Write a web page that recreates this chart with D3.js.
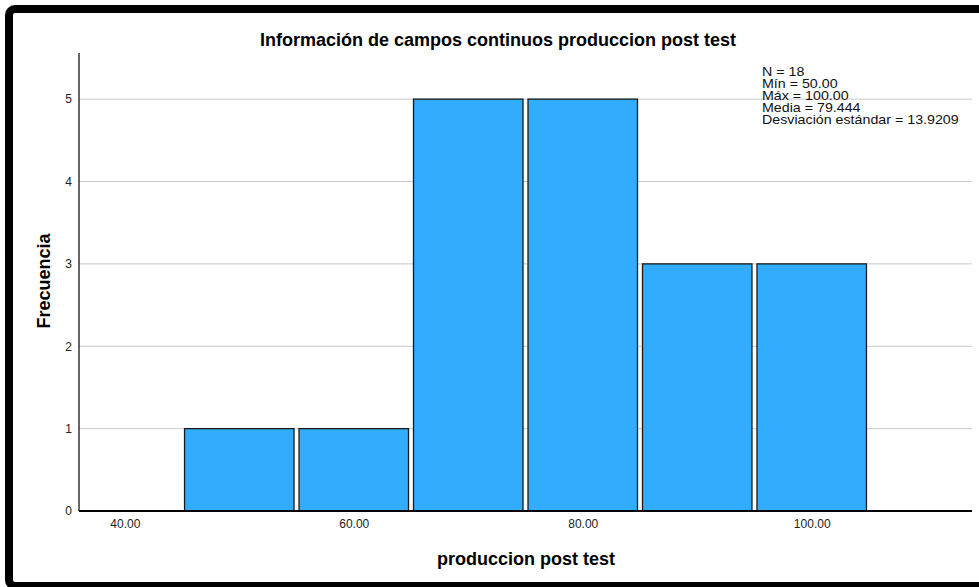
<!DOCTYPE html>
<html>
<head>
<meta charset="utf-8">
<script src="https://cdn.jsdelivr.net/npm/d3@7"></script>
<style>
  body { margin: 0; background: #fff; }
  svg { display: block; font-family: "Liberation Sans", Arial, sans-serif; }
</style>
</head>
<body>
<svg width="979" height="587"></svg>
<script>
// histogram bins (lower edge) and frequencies
var binStarts = [45, 55, 65, 75, 85, 95];
var binWidth = 10;
var counts = [1, 1, 5, 5, 3, 3];
var xTicks = [40, 60, 80, 100];
var yTicks = [0, 1, 2, 3, 4, 5];
var statsLines = ["N = 18", "Mín = 50.00", "Máx = 100.00", "Media = 79.444", "Desviación estándar = 13.9209"];

var svg = d3.select('svg');

// frame
svg.append('rect')
    .attr('x', 9).attr('y', 9)
    .attr('width', 1000).attr('height', 577)
    .attr('rx', 6)
    .attr('fill', '#fff')
    .attr('stroke', '#000')
    .attr('stroke-width', 8);

var xScale = d3.scaleLinear().domain([36, 114]).range([79, 972]);
var yScale = d3.scaleLinear().domain([0, 5.56]).range([511, 53]);

// gridlines
svg.append('g')
    .selectAll('line')
    .data(yTicks.filter(d => d > 0))
    .join('line')
    .attr('x1', 79).attr('x2', 972)
    .attr('y1', d => yScale(d)).attr('y2', d => yScale(d))
    .attr('stroke', '#c8c8c8')
    .attr('stroke-width', 1);

// bars
svg.append('g')
    .selectAll('rect')
    .data(binStarts)
    .join('rect')
    .attr('x', d => xScale(d) + 2.5)
    .attr('y', (d, i) => yScale(counts[i]))
    .attr('width', d => xScale(d + binWidth) - xScale(d) - 5)
    .attr('height', (d, i) => yScale(0) - yScale(counts[i]))
    .attr('fill', '#32adfe')
    .attr('stroke', '#1a1a1a')
    .attr('stroke-width', 1.3);

// y axis
var yAxis = d3.axisLeft(yScale).tickValues(yTicks).tickSize(0).tickPadding(7).tickFormat(d3.format('d'));
var gy = svg.append('g').attr('transform', 'translate(79,0)').call(yAxis);
gy.select('.domain').remove();
gy.selectAll('text').attr('font-size', 12).attr('fill', '#222').attr('font-family', '"Liberation Sans", Arial, sans-serif');
svg.append('line')
    .attr('x1', 79).attr('x2', 79)
    .attr('y1', 53).attr('y2', 511)
    .attr('stroke', '#000').attr('stroke-width', 1.2);

// x axis
var xAxis = d3.axisBottom(xScale).tickValues(xTicks).tickSize(0).tickPadding(8).tickFormat(d3.format('.2f'));
var gx = svg.append('g').attr('transform', 'translate(0,511)').call(xAxis);
gx.select('.domain').remove();
gx.selectAll('text').attr('font-size', 12).attr('fill', '#222').attr('font-family', '"Liberation Sans", Arial, sans-serif');
svg.append('line')
    .attr('x1', 79).attr('x2', 972)
    .attr('y1', 511).attr('y2', 511)
    .attr('stroke', '#000').attr('stroke-width', 1.8);

// titles
svg.append('text')
    .attr('x', 498).attr('y', 46)
    .attr('text-anchor', 'middle')
    .attr('font-size', 18).attr('font-weight', 'bold')
    .text('Información de campos continuos produccion post test');

svg.append('text')
    .attr('x', 526).attr('y', 565)
    .attr('text-anchor', 'middle')
    .attr('font-size', 18).attr('font-weight', 'bold')
    .text('produccion post test');

svg.append('text')
    .attr('transform', 'translate(50,281) rotate(-90)')
    .attr('text-anchor', 'middle')
    .attr('font-size', 18).attr('font-weight', 'bold')
    .text('Frecuencia');

// stats box
svg.append('g')
    .attr('transform', 'translate(762,0) scale(1.14,1)')
    .append('text')
    .attr('font-size', 12.5)
    .attr('fill', '#111')
    .selectAll('tspan')
    .data(statsLines)
    .join('tspan')
    .attr('x', 0)
    .attr('y', (d, i) => 76 + i * 12)
    .text(d => d);
</script>
</body>
</html>
